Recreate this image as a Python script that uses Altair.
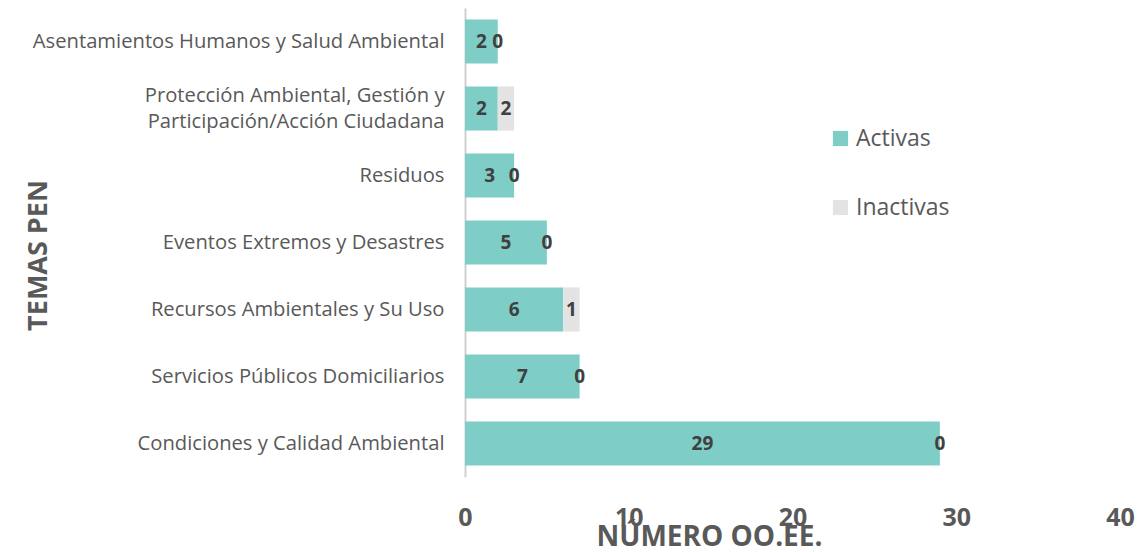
import altair as alt
import pandas as pd

temas = [
    "Asentamientos Humanos y Salud Ambiental",
    "Protección Ambiental, Gestión y|Participación/Acción Ciudadana",
    "Residuos",
    "Eventos Extremos y Desastres",
    "Recursos Ambientales y Su Uso",
    "Servicios Públicos Domiciliarios",
    "Condiciones y Calidad Ambiental",
]
activas = [2, 2, 3, 5, 6, 7, 29]
inactivas_barra = [0, 1, 0, 0, 1, 0, 0]
inactivas_etiqueta = [0, 2, 0, 0, 1, 0, 0]
estados = ["Activas", "Inactivas"]
colores = ["#7FCDC7", "#E3E3E3"]

rows = []
for t, a, ib, il in zip(temas, activas, inactivas_barra, inactivas_etiqueta):
    rows.append({"tema": t, "estado": "Activas", "valor": a, "etiqueta": a, "orden": 0})
    rows.append({"tema": t, "estado": "Inactivas", "valor": ib, "etiqueta": il, "orden": 1})
df = pd.DataFrame(rows)

FONT = "Open Sans"
GRAY = "#595959"

base = alt.Chart(df).transform_stack(
    stack="valor", groupby=["tema"], as_=["x0", "x1"],
    sort=[alt.SortField("orden", order="ascending")]
).transform_calculate(mid="(datum.x0 + datum.x1) / 2")

yenc = alt.Y(
    "tema:N", sort=temas,
    scale=alt.Scale(paddingInner=0.34, paddingOuter=0.17),
    axis=alt.Axis(
        title="TEMAS PEN", titleAngle=-90, titleX=-427, titleY=247,
        titleFont=FONT, titleFontSize=27, titleFontWeight="bold", titleColor=GRAY,
        titleAlign="center", titleBaseline="middle",
        labelFont=FONT, labelFontSize=20.2, labelColor=GRAY, labelPadding=21,
        labelExpr="split(datum.label, '|')", labelLineHeight=26,
        labelOffset={"condition": {"test": "indexof(datum.value, '|') >= 0", "value": -13}, "value": 0},
        ticks=False, domainColor="#D0D0D0", domainWidth=2, labelLimit=500,
    ),
)

bars = base.mark_bar().encode(
    y=yenc,
    x=alt.X("x0:Q", scale=alt.Scale(domain=[0, 40]),
            axis=alt.Axis(
                values=[0, 10, 20, 30, 40], title="NÚMERO OO.EE.",
                titleFont=FONT, titleFontSize=28, titleFontWeight="bold", titleColor=GRAY,
                titleX=244, titleY=60, titleBaseline="middle",
                labelFont=FONT, labelFontSize=25, labelFontWeight="bold", labelColor=GRAY,
                labelPadding=28, labelFlush=False, grid=False, domain=False, ticks=False,
            )),
    x2="x1:Q",
    color=alt.Color("estado:N", scale=alt.Scale(domain=estados, range=colores),
                    legend=alt.Legend(
                        title=None, orient="none", legendX=364, legendY=119,
                        symbolType="square", symbolSize=230, symbolStrokeWidth=0,
                        labelFont=FONT, labelFontSize=23, labelColor=GRAY,
                        rowPadding=45, labelOffset=4,
                    )),
)

text = base.mark_text(font=FONT, fontSize=19, fontWeight="bold", color="#404040").encode(
    y=alt.Y("tema:N", sort=temas),
    x=alt.X("mid:Q"),
    text=alt.Text("etiqueta:Q"),
)

chart = alt.layer(bars, text).properties(
    width=655, height=469,
    autosize=alt.AutoSizeParams(type="none"),
    padding={"left": 457, "top": 0, "right": 15, "bottom": 76},
).configure_view(stroke=None)

chart.save("out.html", embed_options={"renderer": "svg", "actions": False})
